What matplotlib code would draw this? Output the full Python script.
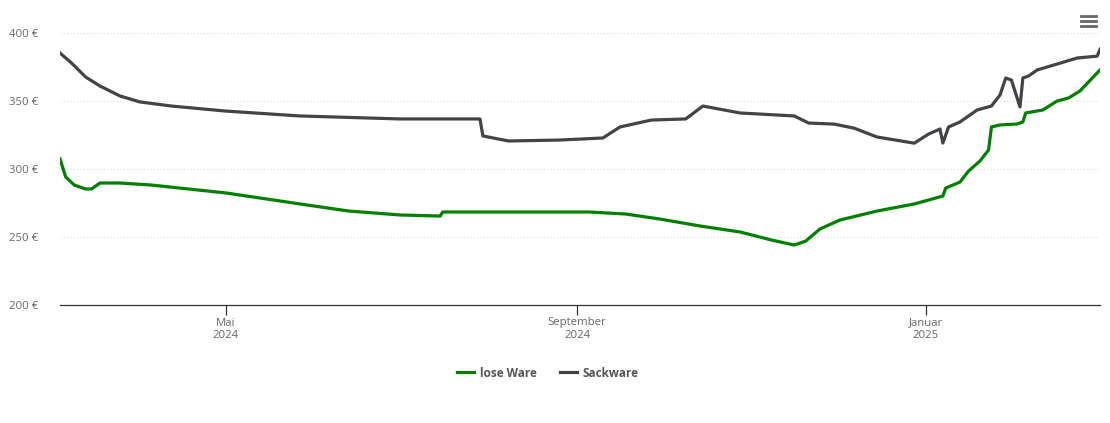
import matplotlib
matplotlib.use("Agg")
from matplotlib import pyplot as plt
from matplotlib.lines import Line2D
import matplotlib.dates as mdates
import numpy as np

plt.rcParams['font.family'] = ['Open Sans', 'DejaVu Sans']

# Sackware (grey line)
sack_dates = ["2024-03-04", "2024-03-08", "2024-03-13", "2024-03-18", "2024-03-25",
              "2024-04-01", "2024-04-12", "2024-05-01", "2024-05-27", "2024-07-01",
              "2024-07-29", "2024-07-30", "2024-08-08", "2024-08-26", "2024-09-10",
              "2024-09-16", "2024-09-27", "2024-10-09", "2024-10-15", "2024-10-28",
              "2024-11-16", "2024-11-21", "2024-11-30", "2024-12-07", "2024-12-15",
              "2024-12-28", "2025-01-02", "2025-01-06", "2025-01-07", "2025-01-09",
              "2025-01-13", "2025-01-19", "2025-01-24", "2025-01-27", "2025-01-29",
              "2025-01-31", "2025-02-03", "2025-02-04", "2025-02-06", "2025-02-09",
              "2025-02-16", "2025-02-23", "2025-03-02", "2025-03-03"]
sack_values = [385.3, 378.0, 367.6, 361.0, 353.7,
               349.3, 346.3, 342.6, 339.0, 336.8,
               336.8, 324.3, 320.6, 321.3, 322.8,
               330.9, 336.0, 336.8, 346.3, 341.2,
               339.0, 333.8, 333.0, 330.0, 323.5,
               319.0, 325.7, 329.4, 319.1, 330.9,
               334.6, 343.4, 346.3, 354.4, 366.9,
               365.4, 345.6, 366.9, 368.4, 372.8,
               377.2, 381.6, 383.0, 388.0]

# lose Ware (green line)
lose_dates = ["2024-03-04", "2024-03-06", "2024-03-09", "2024-03-13", "2024-03-15",
              "2024-03-18", "2024-03-25", "2024-04-05", "2024-05-01", "2024-05-27",
              "2024-06-13", "2024-07-01", "2024-07-15", "2024-07-16", "2024-08-05",
              "2024-09-05", "2024-09-18", "2024-09-30", "2024-10-14", "2024-10-28",
              "2024-11-08", "2024-11-16", "2024-11-20", "2024-11-25", "2024-12-02",
              "2024-12-15", "2024-12-28", "2025-01-07", "2025-01-08", "2025-01-13",
              "2025-01-16", "2025-01-20", "2025-01-23", "2025-01-24", "2025-01-27",
              "2025-02-02", "2025-02-04", "2025-02-05", "2025-02-11", "2025-02-16",
              "2025-02-20", "2025-02-24", "2025-03-03"]
lose_values = [307.4, 294.1, 288.2, 285.3, 285.3,
               289.7, 289.7, 288.2, 282.4, 274.3,
               269.1, 266.2, 265.4, 268.4, 268.4,
               268.4, 266.9, 263.2, 258.1, 253.7,
               247.8, 244.1, 247.0, 255.9, 262.5,
               269.1, 274.3, 280.1, 286.0, 290.4,
               298.5, 305.9, 314.0, 330.9, 332.4,
               333.1, 334.6, 341.2, 343.4, 350.0,
               352.2, 357.4, 372.8]

y_ticks = [200, 250, 300, 350, 400]
x_ticks = ["2024-05-01", "2024-09-01", "2025-01-01"]
x_tick_labels = ["Mai\n2024", "September\n2024", "Januar\n2025"]

GREEN = "#008000"
GREY = "#434348"

fig = plt.figure(figsize=(11.1, 4.23), dpi=100)
ax = fig.add_axes([60 / 1110, 118 / 423, 1040 / 1110, 272 / 423])

ax.plot(np.array(lose_dates, dtype="datetime64[D]"), lose_values,
        color=GREEN, lw=2.3, solid_joinstyle="round", label="lose Ware")
ax.plot(np.array(sack_dates, dtype="datetime64[D]"), sack_values,
        color=GREY, lw=2.3, solid_joinstyle="round", label="Sackware")

ax.set_xlim(np.datetime64("2024-03-04"), np.datetime64("2025-03-03"))
ax.set_ylim(200, 400)

ax.set_yticks(y_ticks)
ax.set_yticklabels([f"{v} €" for v in y_ticks])
ax.set_xticks(np.array(x_ticks, dtype="datetime64[D]"))
ax.set_xticklabels(x_tick_labels, linespacing=1.15)

ax.grid(axis="y", color="#d8d8d8", lw=0.8, ls=(0, (1, 2)))
ax.set_axisbelow(True)
for s in ["top", "right", "left"]:
    ax.spines[s].set_visible(False)
ax.spines["bottom"].set_color("#333333")
ax.spines["bottom"].set_linewidth(0.9)

ax.tick_params(axis="y", length=0, pad=16, labelsize=8.2, labelcolor="#666666")
ax.tick_params(axis="x", length=7, width=0.9, color="#333333", pad=2,
               labelsize=8.2, labelcolor="#666666")

handles = [Line2D([], [], color=GREEN, lw=2.3), Line2D([], [], color=GREY, lw=2.3)]
leg = fig.legend(handles, ["lose Ware", "Sackware"], loc="center",
                 bbox_to_anchor=(548 / 1110, 1 - 373 / 423), ncol=2, frameon=False,
                 handlelength=1.4, handletextpad=0.5, columnspacing=2.0,
                 prop={"size": 8.5, "weight": "bold"})
for t in leg.get_texts():
    t.set_color("#555555")

# menu icon top right
for yy in [16, 21, 26]:
    fig.add_artist(Line2D([1081 / 1110, 1096 / 1110], [1 - yy / 423, 1 - yy / 423],
                          color="#666666", lw=2, transform=fig.transFigure))

fig.savefig("out.png", dpi=100)
